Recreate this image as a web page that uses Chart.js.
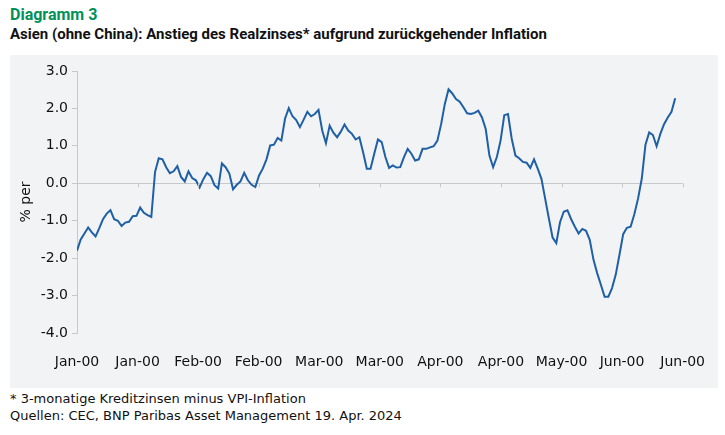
<!DOCTYPE html>
<html lang="de">
<head>
<meta charset="UTF-8">
<title>Diagramm 3</title>
<style>
  body { margin: 0; background: #fff; font-family: Roboto, "Liberation Sans", sans-serif; }
  .head { position: absolute; left: 10px; top: 6px; }
  .kicker { color: #00915a; font-weight: 700; font-size: 16px; line-height: 18px; }
  .title { color: #111; font-weight: 700; font-size: 15px; line-height: 20px; }
  .box { position: absolute; left: 10px; top: 55px; width: 708px; height: 333px; background: #f2f3f4; }
  .foot { position: absolute; left: 10px; top: 390px; font-size: 13px; line-height: 17px; color: #111; font-family: "DejaVu Sans", sans-serif; }
</style>
</head>
<body>
<div class="head">
  <div class="kicker">Diagramm 3</div>
  <div class="title">Asien (ohne China): Anstieg des Realzinses* aufgrund zurückgehender Inflation</div>
</div>
<div class="box"><canvas id="chartId" width="708" height="333"></canvas></div>
<div class="foot">* 3-monatige Kreditzinsen minus VPI-Inflation<br>Quellen: CEC, BNP Paribas Asset Management 19. Apr. 2024</div>
<script src="https://cdn.jsdelivr.net/npm/chart.js@4/dist/chart.umd.min.js"></script>
<script>
const tickLabels = ['Jan-00','Jan-00','Feb-00','Feb-00','Mar-00','Mar-00','Apr-00','Apr-00','May-00','Jun-00','Jun-00'];
const pointsPerTick = 16.3;
const realRate = [
  -1.80,-1.50,-1.34,-1.18,-1.31,-1.42,-1.20,-0.96,-0.81,-0.72,-0.96,-1.00,-1.14,-1.05,-1.03,-0.88,
  -0.87,-0.65,-0.79,-0.85,-0.90,0.30,0.67,0.64,0.43,0.27,0.32,0.46,0.17,0.05,0.32,0.14,
  0.08,-0.11,0.11,0.28,0.19,-0.05,-0.14,0.53,0.43,0.26,-0.16,-0.04,0.05,0.28,0.08,-0.04,
  -0.10,0.21,0.39,0.64,1.01,1.03,1.21,1.14,1.73,2.01,1.79,1.69,1.50,1.70,1.91,1.79,
  1.85,1.96,1.41,1.07,1.54,1.35,1.23,1.38,1.57,1.41,1.32,1.17,1.23,0.83,0.39,0.39,
  0.79,1.17,1.10,0.70,0.41,0.48,0.42,0.43,0.70,0.92,0.79,0.61,0.64,0.92,0.92,0.96,
  0.99,1.14,1.58,2.12,2.51,2.40,2.25,2.18,2.03,1.87,1.85,1.88,1.94,1.76,1.45,0.74,
  0.43,0.70,1.14,1.82,1.85,1.19,0.74,0.67,0.57,0.55,0.41,0.64,0.39,0.12,-0.41,-0.94,
  -1.45,-1.60,-1.04,-0.76,-0.72,-0.96,-1.16,-1.34,-1.22,-1.27,-1.51,-2.04,-2.40,-2.71,-3.03,-3.03,
  -2.80,-2.44,-1.91,-1.36,-1.19,-1.16,-0.83,-0.41,0.12,1.03,1.36,1.29,0.99,1.32,1.58,1.76,
  1.91,2.27
];

// small tick marks on the zero line
const zeroTicks = {
  id: 'zeroTicks',
  afterDraw(chart) {
    const { ctx, scales: { x, y } } = chart;
    const y0 = y.getPixelForValue(0);
    ctx.save();
    ctx.strokeStyle = '#c8c8c8';
    ctx.lineWidth = 1;
    for (let i = 0; i < tickLabels.length; i++) {
      const px = Math.round(x.getPixelForValue(i * pointsPerTick)) + 0.5;
      ctx.beginPath(); ctx.moveTo(px, y0); ctx.lineTo(px, y0 + 4); ctx.stroke();
    }
    ctx.restore();
  }
};

const ctx = document.getElementById('chartId').getContext('2d');
new Chart(ctx, {
  type: 'line',
  data: {
    datasets: [{
      data: realRate.map((v, i) => ({ x: i, y: v })),
      borderColor: '#1f5fa6',
      borderWidth: 2,
      pointRadius: 0,
      tension: 0
    }]
  },
  options: {
    responsive: false,
    animation: false,
    layout: { padding: { top: 16, right: 34, left: 0, bottom: 0 } },
    plugins: { legend: { display: false }, tooltip: { enabled: false } },
    scales: {
      x: {
        type: 'linear',
        min: 0,
        max: pointsPerTick * 10,
        afterBuildTicks(s) { s.ticks = tickLabels.map((_, i) => ({ value: i * pointsPerTick })); },
        afterFit(s) { s.height = 55; },
        border: { display: false },
        grid: { display: false },
        ticks: {
          autoSkip: false, maxRotation: 0, padding: 13,
          color: '#111', font: { family: 'DejaVu Sans', size: 14 },
          callback: (v) => tickLabels[Math.round(v / pointsPerTick)]
        }
      },
      y: {
        min: -4, max: 3,
        afterFit(s) { s.width = 67; },
        border: { display: true, color: '#c8c8c8' },
        grid: {
          drawOnChartArea: true, drawTicks: true, tickLength: 5,
          color: (c) => c.tick && c.tick.value === 0 ? '#c8c8c8' : 'rgba(0,0,0,0)',
          tickColor: '#c8c8c8'
        },
        ticks: {
          stepSize: 1, padding: 4, color: '#111',
          font: { family: 'DejaVu Sans', size: 14 },
          callback: (v) => v.toFixed(1)
        },
        title: { display: true, text: '% per', color: '#111', font: { family: 'DejaVu Sans', size: 14 }, padding: { top: 8, bottom: 0 } }
      }
    }
  },
  plugins: [zeroTicks]
});
</script>
</body>
</html>
